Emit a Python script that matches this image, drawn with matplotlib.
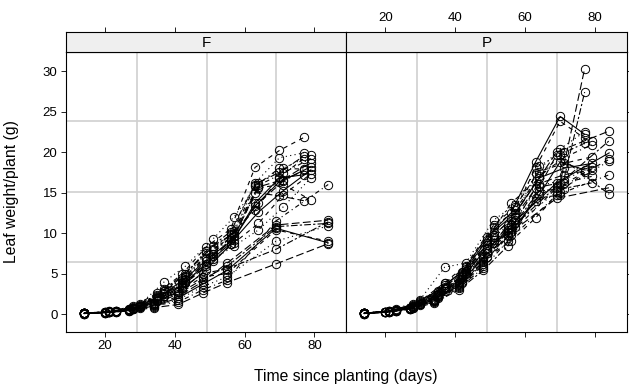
import matplotlib
matplotlib.use('Agg')
import matplotlib.pyplot as plt

plt.rcParams['font.family'] = ['Liberation Sans', 'DejaVu Sans']

# Zeitpunkte (Tage) je Jahr
t88 = [14, 21, 28, 35, 42, 49, 56, 63, 70, 77]
t89 = [14, 23, 30, 37, 43, 51, 57, 64, 71, 79]
t90 = [14, 20, 27, 34, 41, 48, 55, 69, 84]

# Blattgewicht je Parzelle, Sorte F
f88 = [
    [0.10, 0.26, 0.67, 2.11, 3.56, 6.23, 8.71, 13.35, 16.34, 17.75],
    [0.10, 0.35, 0.95, 2.60, 4.90, 8.30, 10.50, 18.10, 20.20, 21.80],
    [0.11, 0.30, 0.80, 2.30, 4.20, 7.50, 9.80, 16.20, 19.30, 19.90],
    [0.09, 0.28, 0.74, 2.00, 3.90, 6.90, 9.40, 15.80, 18.00, 17.90],
    [0.10, 0.25, 0.70, 1.90, 3.40, 6.00, 9.10, 15.00, 14.60, 14.00],
    [0.12, 0.33, 0.85, 2.40, 4.50, 7.80, 10.20, 16.00, 17.50, 19.50],
    [0.10, 0.27, 0.60, 1.60, 3.00, 5.50, 8.60, 13.70, 16.80, 17.20],
    [0.11, 0.24, 0.65, 1.80, 3.20, 6.50, 9.90, 12.80, 16.90, 19.20],
]
f89 = [
    [0.10, 0.40, 1.20, 4.00, 5.90, 9.30, 12.00, 16.20, 18.00, 19.60],
    [0.09, 0.35, 1.00, 2.80, 4.60, 7.90, 10.30, 15.90, 17.40, 19.20],
    [0.10, 0.30, 0.90, 2.50, 4.20, 7.20, 9.60, 15.70, 16.60, 18.70],
    [0.11, 0.38, 1.10, 3.10, 5.00, 8.40, 10.00, 13.70, 16.40, 18.20],
    [0.10, 0.33, 0.95, 2.60, 4.40, 7.40, 9.20, 12.60, 15.20, 17.80],
    [0.09, 0.28, 0.80, 2.20, 3.80, 6.60, 8.80, 11.20, 14.70, 17.30],
    [0.10, 0.30, 0.85, 2.30, 4.00, 6.80, 8.40, 10.40, 13.20, 16.80],
    [0.11, 0.36, 1.05, 2.90, 4.70, 8.00, 9.70, 15.60, 16.00, 14.10],
]
f90 = [
    [0.08, 0.20, 0.50, 1.10, 2.20, 4.00, 6.30, 11.00, 11.60],
    [0.09, 0.22, 0.55, 1.20, 2.50, 4.30, 5.90, 10.80, 11.20],
    [0.08, 0.18, 0.45, 1.00, 2.00, 3.70, 5.40, 10.60, 8.80],
    [0.10, 0.24, 0.60, 1.30, 2.70, 4.60, 5.00, 10.40, 9.00],
    [0.08, 0.19, 0.48, 0.90, 1.80, 3.40, 4.60, 9.00, 10.90],
    [0.09, 0.21, 0.52, 1.10, 1.50, 3.00, 4.20, 11.50, 16.00],
    [0.08, 0.17, 0.40, 0.80, 1.20, 2.60, 3.90, 6.20, 8.70],
    [0.09, 0.23, 0.58, 1.40, 2.90, 5.00, 5.60, 8.00, 11.40],
]

# Blattgewicht je Parzelle, Sorte P
p88 = [
    [0.12, 0.40, 1.20, 2.90, 5.20, 9.50, 12.50, 18.80, 24.40, 22.20],
    [0.11, 0.35, 1.00, 2.50, 4.80, 8.80, 11.80, 18.10, 23.80, 21.70],
    [0.10, 0.30, 0.90, 2.20, 4.30, 8.00, 11.00, 17.40, 20.40, 22.50],
    [0.12, 0.38, 1.10, 2.70, 5.00, 9.20, 13.70, 16.40, 19.70, 21.10],
    [0.11, 0.33, 0.95, 2.40, 4.60, 8.50, 10.50, 15.60, 16.20, 30.30],
    [0.10, 0.28, 0.80, 2.10, 4.00, 7.50, 9.80, 14.30, 14.70, 27.40],
    [0.11, 0.31, 0.85, 2.30, 4.40, 8.20, 10.20, 14.00, 18.80, 17.80],
    [0.10, 0.29, 0.82, 2.00, 3.80, 7.00, 9.00, 11.90, 15.10, 17.50],
]
p89 = [
    [0.10, 0.60, 1.80, 5.80, 6.30, 11.60, 13.50, 18.30, 20.00, 21.40],
    [0.11, 0.50, 1.50, 3.80, 5.80, 10.70, 12.80, 17.00, 19.30, 20.90],
    [0.10, 0.45, 1.30, 3.40, 5.30, 9.80, 12.00, 16.10, 17.20, 17.80],
    [0.09, 0.40, 1.20, 3.10, 5.00, 9.20, 11.20, 15.20, 15.50, 16.20],
    [0.10, 0.48, 1.40, 3.60, 5.60, 10.20, 12.40, 16.80, 18.00, 18.60],
    [0.11, 0.52, 1.60, 3.90, 6.00, 11.00, 13.20, 17.60, 18.60, 19.40],
    [0.10, 0.42, 1.25, 3.20, 5.10, 9.50, 11.60, 15.80, 16.60, 18.10],
    [0.09, 0.38, 1.10, 2.90, 4.70, 8.80, 10.80, 14.70, 16.20, 17.00],
]
p90 = [
    [0.09, 0.28, 0.80, 1.90, 4.00, 7.00, 11.00, 20.00, 22.60],
    [0.08, 0.25, 0.70, 1.70, 3.60, 6.40, 10.20, 15.80, 21.40],
    [0.09, 0.27, 0.75, 1.80, 3.80, 6.80, 10.60, 16.20, 19.90],
    [0.08, 0.24, 0.65, 1.60, 3.40, 6.00, 9.60, 15.60, 19.10],
    [0.09, 0.26, 0.72, 1.75, 3.70, 6.60, 10.40, 15.10, 18.90],
    [0.08, 0.23, 0.62, 1.50, 3.20, 5.70, 9.00, 14.70, 17.20],
    [0.09, 0.25, 0.68, 1.65, 3.50, 6.20, 9.80, 14.30, 15.60],
    [0.08, 0.22, 0.60, 1.40, 3.00, 5.40, 8.40, 19.70, 14.80],
]

panels = ['F', 'P']
xticks = [20, 40, 60, 80]
yticks = [0, 5, 10, 15, 20, 25, 30]
grid_x = [29.1, 49.1, 69.1]
grid_y = [6.4, 15.1, 23.8]

linestyles = ['-', (0, (4, 4)), (0, (1, 3)), (0, (1, 3, 4, 3)), (0, (7, 3)), (0, (2, 2, 6, 2))]

W, H = 629, 386
fig = plt.figure(figsize=(W / 100, H / 100), dpi=100)

lefts = [66, 346]
widths = [280, 281]
data = {'F': [(t88, f88), (t89, f89), (t90, f90)],
        'P': [(t88, p88), (t89, p89), (t90, p90)]}

for k, name in enumerate(panels):
    ax = fig.add_axes([lefts[k] / W, 1 - 332 / H, widths[k] / W, 280 / H])
    st = fig.add_axes([lefts[k] / W, 1 - 52 / H, widths[k] / W, 20 / H])

    ax.set_xlim(8.8, 89.1)
    ax.set_ylim(-2.2, 32.35)
    for gx in grid_x:
        ax.axvline(gx, color='#d0d0d0', lw=1.2, zorder=0)
    for gy in grid_y:
        ax.axhline(gy, color='#d0d0d0', lw=1.2, zorder=0)

    i = 0
    for times, plots in data[name]:
        for w in plots:
            ax.plot(times, w, color='black', lw=0.8, ls=linestyles[i % len(linestyles)],
                    marker='o', ms=6, mfc='none', mec='black', mew=0.7, zorder=3)
            i += 1

    for s in ax.spines.values():
        s.set_linewidth(0.8)
    ax.set_xticks(xticks)
    ax.set_yticks(yticks)
    ax.tick_params(direction='out', length=3.6, width=0.6, labelsize=9.5, pad=2.5)
    if k == 0:
        ax.tick_params(left=True, labelleft=True, right=False, bottom=True, labelbottom=True)
    else:
        ax.tick_params(left=False, labelleft=False, right=True, labelright=False,
                       bottom=True, labelbottom=False)

    st.set_xlim(ax.get_xlim())
    st.set_ylim(0, 1)
    st.set_facecolor('#efefef')
    for s in st.spines.values():
        s.set_linewidth(0.8)
    st.set_yticks([])
    st.set_xticks(xticks)
    st.tick_params(axis='x', direction='out', length=3.6, width=0.6, labelsize=9.5, pad=2.5,
                   bottom=False, labelbottom=False, top=True, labeltop=(k == 1))
    st.text(0.5, 0.45, name, transform=st.transAxes, ha='center', va='center', fontsize=11)

fig.text(12 / W, 1 - 192 / H, 'Leaf weight/plant (g)', rotation=90, ha='center', va='center',
         fontsize=11.3)
fig.text(346 / W, 1 - 377 / H, 'Time since planting (days)', ha='center', va='center',
         fontsize=11.3)

fig.savefig('out.png', dpi=100)
